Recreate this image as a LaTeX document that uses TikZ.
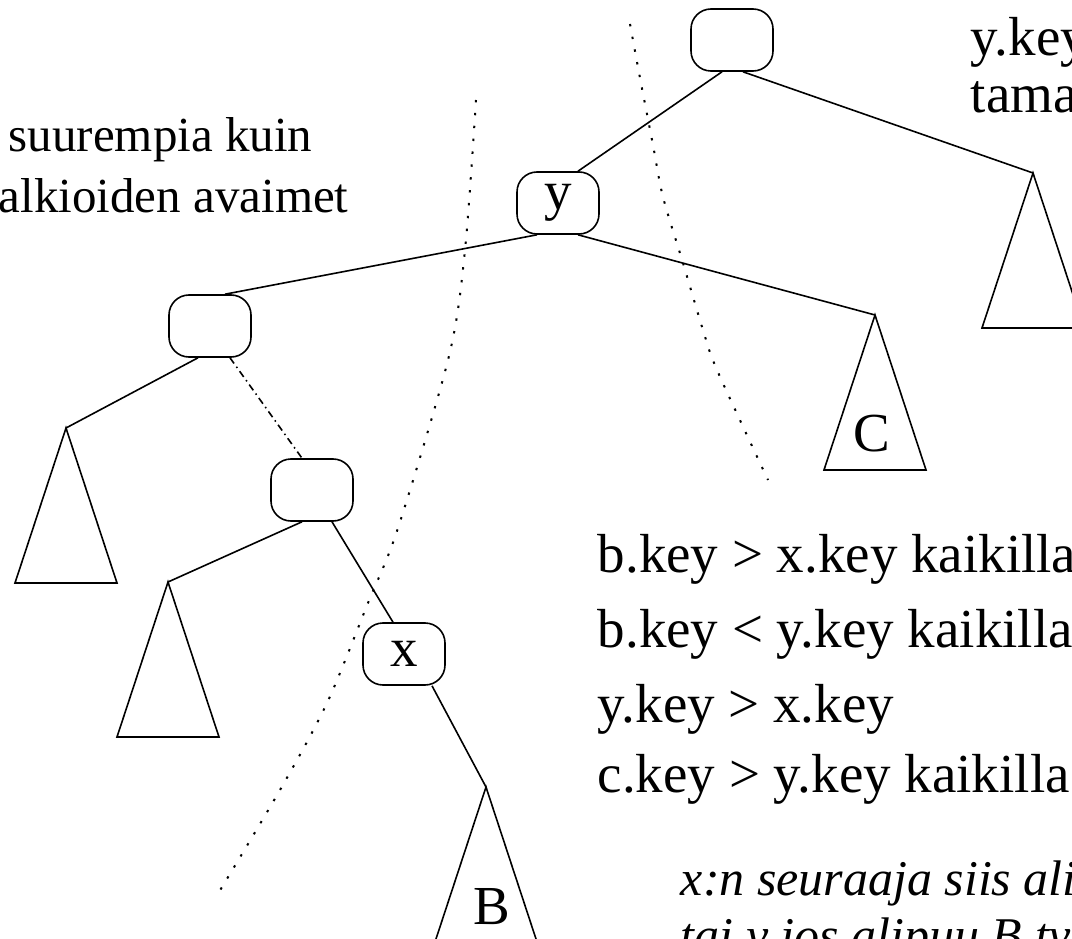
\documentclass[tikz,border=0pt]{standalone}
\usepackage{fontspec}
\setmainfont{Liberation Serif}
\usetikzlibrary{positioning}

\begin{document}
\begin{tikzpicture}[
  x=1pt, y=-1pt,
  line width=1.6pt,
  font=\fontsize{55}{60}\selectfont,
  keynode/.style={draw, rounded corners=20pt, minimum width=82pt, minimum height=62pt, inner sep=0pt},
  pathline/.style={dash pattern=on 7pt off 4pt on 1.5pt off 4pt},
  divider/.style={line width=2pt, dash pattern=on 2.4pt off 10.5pt},
  note/.style={anchor=base west, inner sep=0pt}
]

  \useasboundingbox (0,0) rectangle (1072,939);
  \clip (0,0) rectangle (1072,939);

  % Tree nodes
  \node [keynode] (root) at (732,40) {};
  \node [keynode] (y) at (558,203) {y};
  \node [keynode] (n1) at (210,326) {};
  \node [keynode] (n2) at (312,490) {};
  \node [keynode] (x) at (404,654) {x};

  % Subtree apexes
  \coordinate (tR) at (1033,173);
  \coordinate (tC) at (875,315);
  \coordinate (t1) at (66,428);
  \coordinate (t2) at (168,582);
  \coordinate (tB) at (486,787);

  % Subtrees
  \foreach \t in {tR,tC,t1,t2,tB} {
    \draw (\t) -- ++(-51,155) -- ++(102,0) -- cycle;
  }
  \node at (872,434) {C};
  \node at (492,907) {B};

  % Edges
  \draw ([xshift=-10pt]root.south) -- ([xshift=20pt]y.north);
  \draw ([xshift=11pt]root.south) -- (tR);
  \draw ([xshift=-21pt]y.south) -- ([xshift=15pt]n1.north);
  \draw ([xshift=20pt]y.south) -- (tC);
  \draw ([xshift=-12pt]n1.south) -- (t1);
  \draw [pathline] ([xshift=20pt]n1.south) -- ([xshift=-10pt]n2.north);
  \draw ([xshift=-10pt]n2.south) -- (t2);
  \draw ([xshift=20pt]n2.south) -- ([xshift=-11pt]x.north);
  \draw ([xshift=28pt]x.south) -- (tB);

  % Dividing curves
  \draw [divider] plot [smooth] coordinates
    {(476,100) (465,250) (449,356) (398,528) (368,603) (327,703) (280,790) (216,897)};
  \draw [divider] plot [smooth] coordinates
    {(630,24) (640,78) (653,145) (663,197) (683,263) (703,330) (717,370) (768,480)};

  % Texts
  \node [note, font=\fontsize{49}{56}\selectfont] (lt1) at (8,152) {suurempia kuin};
  \node [note, font=\fontsize{49}{56}\selectfont] (lt2) at (-2,213) {alkioiden avaimet};
  \node [note] (rt1) at (970,56) {y.key};
  \node [note] (rt2) at (970,113) {taman};

  \node [note] (k1) at (597,572) {b.key > x.key kaikilla};
  \node [note] (k2) at (597,647) {b.key < y.key kaikilla};
  \node [note] (k3) at (597,722) {y.key > x.key};
  \node [note] (k4) at (597,792) {c.key > y.key kaikilla};
  \node [note, font=\fontsize{50}{56}\selectfont\itshape] (s1) at (680,895) {x:n seuraaja siis alipuun};
  \node [note, font=\fontsize{50}{56}\selectfont\itshape] (s2) at (680,952) {tai y jos alipuu B tyhja};

\end{tikzpicture}
\end{document}
